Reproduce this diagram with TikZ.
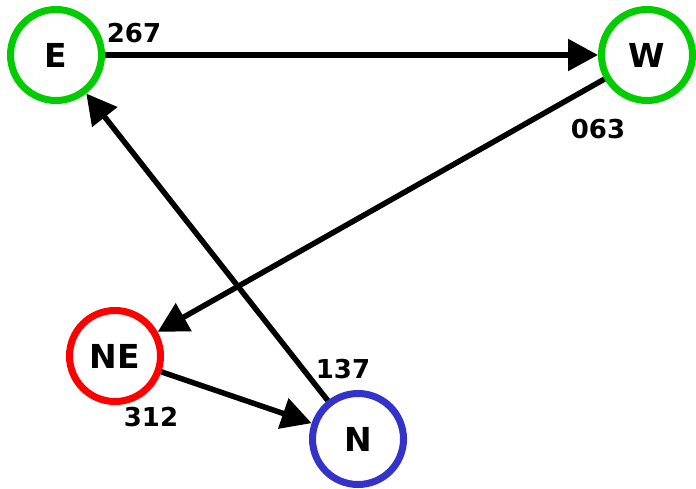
\documentclass[tikz,border=0pt]{standalone}
\usepackage{fontspec}
\setmainfont{DejaVu Sans}
\usepackage{tikz}
\usetikzlibrary{arrows.meta}

\definecolor{nodegreen}{RGB}{0,204,0}
\definecolor{nodered}{RGB}{255,0,0}
\definecolor{nodeblue}{RGB}{51,51,204}

\begin{document}
\begin{tikzpicture}[x=1pt,y=-1pt,
    station/.style={circle,draw,line width=7pt,minimum size=91pt,inner sep=0pt,
        font=\fontsize{33}{33}\selectfont\bfseries},
    weight/.style={inner sep=0pt,font=\fontsize{26}{26}\selectfont\bfseries},
    link/.style={line width=5.5pt,-{Triangle[length=30pt,width=31pt]}}]
        \useasboundingbox (0,0) rectangle (696,489);

        % stations
        \node[station,draw=nodegreen] (E) at (56,55) {E};
        \node[station,draw=nodegreen] (W) at (647,55) {W};
        \node[station,draw=nodered] (NE) at (115,356) {NE};
        \node[station,draw=nodeblue] (N) at (358,439) {N};

        % links
        \draw[link] (E) -- (W);
        \draw[link] (W) -- (NE);
        \draw[link] (NE) -- (N);
        \draw[link] (N) -- (E);

        % weights
        \node[weight] (w267) at (134,33) {267};
        \node[weight] (w063) at (598,129) {063};
        \node[weight] (w312) at (151,417) {312};
        \node[weight] (w137) at (343,369) {137};
    \end{tikzpicture}
\end{document}
